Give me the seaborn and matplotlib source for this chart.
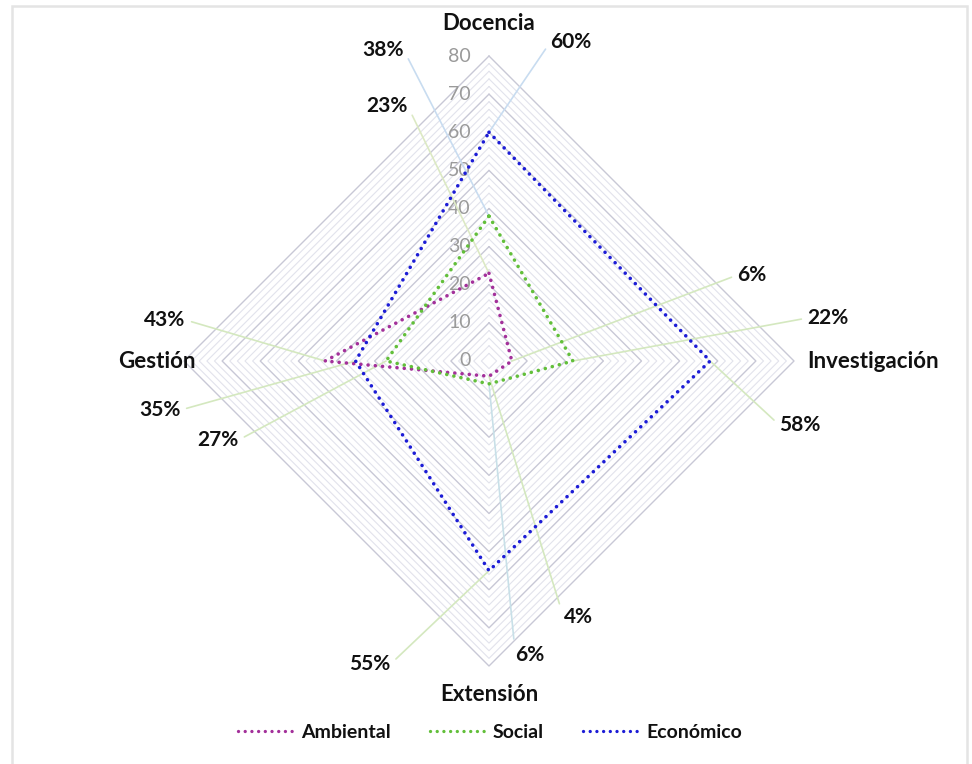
import numpy as np
import pandas as pd
import seaborn as sns
import matplotlib.pyplot as plt
from matplotlib.lines import Line2D
from matplotlib.patches import Rectangle

# Data
ejes = ["Docencia", "Investigación", "Extensión", "Gestión"]
series = ["Ambiental", "Social", "Económico"]
ambiental = [23, 6, 4, 43]
social = [38, 22, 6, 27]
economico = [60, 58, 55, 35]
ticks = [0, 10, 20, 30, 40, 50, 60, 70, 80]
colores = {"Ambiental": "#a3309a", "Social": "#62bf3a", "Económico": "#1c1cd6"}

sns.set_theme(style="white")
plt.rcParams["font.family"] = ["Lato", "DejaVu Sans"]

W, H = 972, 764
fig = plt.figure(figsize=(W / 100, H / 100), dpi=100)
ax = fig.add_axes([0, 0, 1, 1])
ax.set_axis_off()

# pixel scale: radius 80 ~ 305 px, centre at (489, 361)
esc = 305 / 80
cx, cy = 489, 361
ax.set_xlim(-cx / esc, (W - cx) / esc)
ax.set_ylim(-(H - cy) / esc, cy / esc)

ang = np.array([0, 90, 180, 270]) * np.pi / 180
sx, sy = np.sin(ang), np.cos(ang)

# diamond grid
for r in np.arange(2, 81, 2):
    major = r % 10 == 0
    ax.plot(np.append(r * sx, r * sx[0]), np.append(r * sy, r * sy[0]),
            color="#c8c8d6" if major else "#e2e3ec", lw=1.0 if major else 0.8, zorder=1)

for t in ticks:
    ax.text(-4.8, t, str(t), ha="right", va="center", fontsize=14, color="#9a9a9a", zorder=2)

# series
filas = []
for nombre, vals in zip(series, [ambiental, social, economico]):
    v = np.array(vals + vals[:1], dtype=float)
    xs = np.append(sx, sx[0]) * v
    ys = np.append(sy, sy[0]) * v
    for i, (a, b) in enumerate(zip(xs, ys)):
        filas.append({"serie": nombre, "orden": i, "x": a, "y": b})
df = pd.DataFrame(filas)

sns.lineplot(data=df, x="x", y="y", hue="serie", palette=colores, sort=False,
             estimator=None, units="serie", legend=False, ax=ax, lw=2.6,
             linestyle=(0, (0.01, 2.0)), dash_capstyle="round", zorder=5)

# axis labels
fs_eje = 16
ax.text(0, 88.5, ejes[0], ha="center", va="center", fontsize=fs_eje, fontweight="bold", color="#111111")
ax.text(83.5, 0, ejes[1], ha="left", va="center", fontsize=fs_eje, fontweight="bold", color="#111111")
ax.text(0, -87.5, ejes[2], ha="center", va="center", fontsize=fs_eje, fontweight="bold", color="#111111")
ax.text(-77, 0, ejes[3], ha="right", va="center", fontsize=fs_eje, fontweight="bold", color="#111111")

# data labels with leader lines (label centres in pixels)
etiquetas = {
    ("Ambiental", 0): (387, 106, "#dce9c4"),
    ("Social", 0): (383, 50, "#c8dcf0"),
    ("Económico", 0): (571, 42, "#c8dcf0"),
    ("Ambiental", 1): (752, 275, "#d4e8bf"),
    ("Social", 1): (828, 318, "#d4e8bf"),
    ("Económico", 1): (800, 425, "#d4e8bf"),
    ("Ambiental", 2): (578, 617, "#d4e8bf"),
    ("Social", 2): (530, 655, "#c8e0e8"),
    ("Económico", 2): (370, 664, "#d4e8bf"),
    ("Ambiental", 3): (165, 320, "#d4e8bf"),
    ("Económico", 3): (160, 410, "#d4e8bf"),
    ("Social", 3): (218, 440, "#d4e8bf"),
}
datos = {"Ambiental": ambiental, "Social": social, "Económico": economico}
for (nombre, i), (px, py, col) in etiquetas.items():
    v = datos[nombre][i]
    lado_izq = px < cx + v * sx[i] * esc
    ax.annotate(f"{v}%", xy=(v * sx[i], v * sy[i]),
                xytext=(px / W, 1 - py / H), textcoords="figure fraction",
                ha="center", va="center", fontsize=15, fontweight="bold", color="#111111",
                arrowprops=dict(arrowstyle="-", color=col, lw=1.2, shrinkA=2, shrinkB=0,
                                relpos=(1, 0.5) if lado_izq else (0, 0.5)),
                zorder=3)

# legend
handles = [Line2D([0], [0], color=colores[s], lw=2.4, linestyle=(0, (0.01, 2.0)),
                  dash_capstyle="round") for s in series]
leg = fig.legend(handles, series, loc="center", bbox_to_anchor=(0.504, 0.041), ncol=3,
                 frameon=False, handlelength=3.0, handletextpad=0.25, columnspacing=2.0,
                 fontsize=14)
for txt in leg.get_texts():
    txt.set_fontweight("bold")
    txt.set_color("#111111")

# outer frame
fig.add_artist(Rectangle((12 / W, -0.01), (967 - 12) / W, 1.0 - 6 / H + 0.01,
                         transform=fig.transFigure, fill=False, ec="#e4e4e4", lw=1.8))

fig.savefig("out.png", dpi=100)
